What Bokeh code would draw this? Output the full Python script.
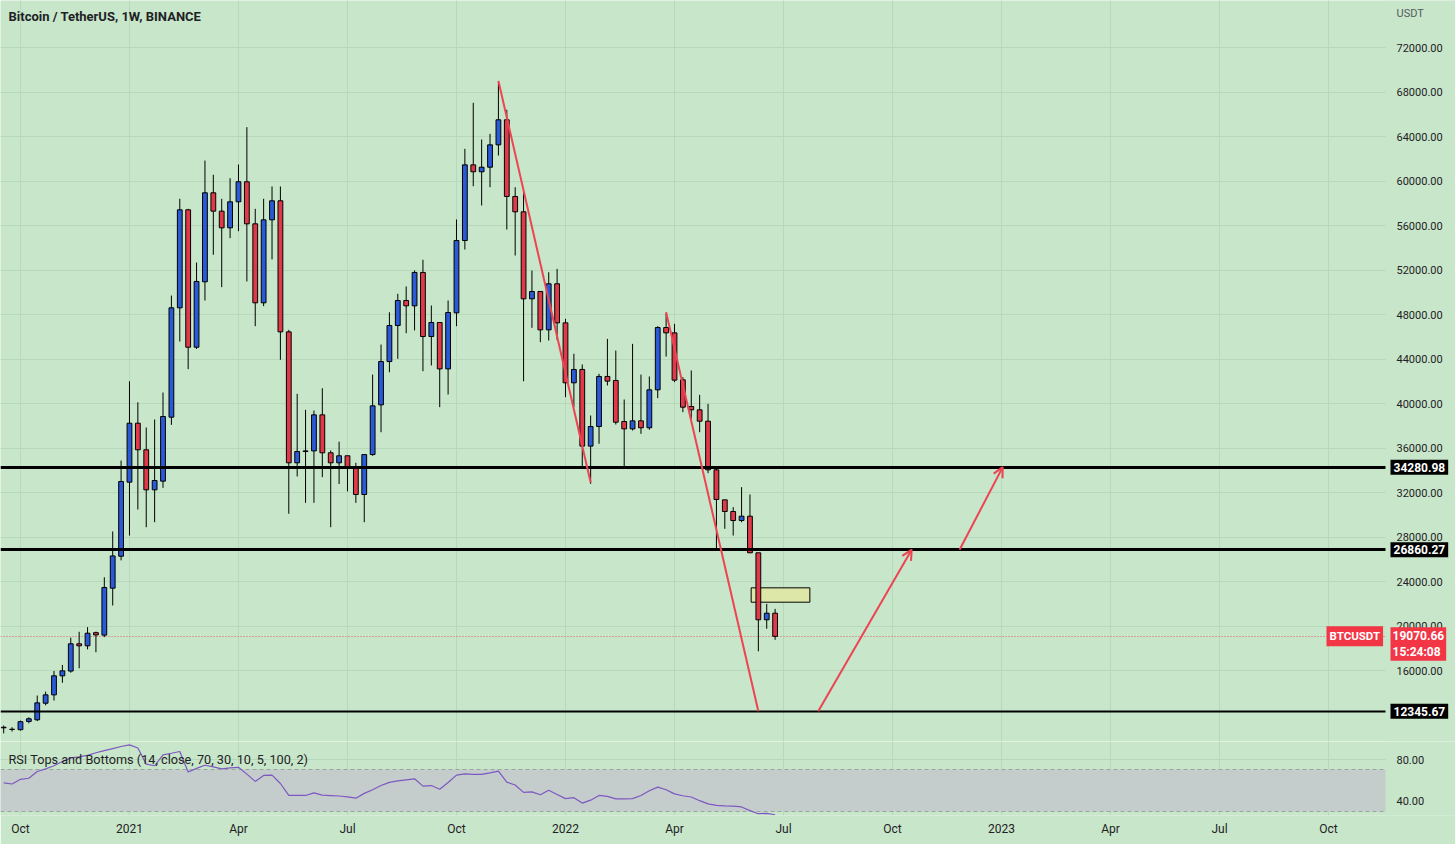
import pandas as pd
from bokeh.plotting import figure
from bokeh.layouts import column
from bokeh.models import (Range1d, FixedTicker, NumeralTickFormatter, Label, Arrow,
                          OpenHead, ColumnDataSource)
from bokeh.embed import file_html
from bokeh.resources import INLINE

# ------------------------------------------------------------------ data
title_text = "Bitcoin / TetherUS, 1W, BINANCE"
rsi_title = "RSI Tops and Bottoms (14, close, 70, 30, 10, 5, 100, 2)"
currency = "USDT"
symbol = "BTCUSDT"
countdown = "15:24:08"

first_week = "2020-09-21"
n_weeks = 93

opens = [10900, 10700, 10680, 11420, 11570, 13060, 13810, 15520, 15950, 18400,
         18220, 19400, 19180, 23400, 26270, 32930, 38230, 35840, 32240, 33020,
         38770, 48600, 57410, 45060, 50940, 58940, 57290, 55790, 58130, 59930,
         56150, 49050, 56510, 58220, 46440, 34670, 35680, 35740, 38980, 35570,
         34670, 35300, 34220, 31820, 35410, 39880, 43770, 47010, 49260, 48780,
         51780, 46020, 47280, 43110, 48150, 54650, 61450, 60830, 61240, 63250,
         65500, 58610, 57230, 49410, 50070, 46620, 50760, 47250, 41860, 43060,
         36170, 37930, 42430, 42070, 38380, 37720, 38440, 37820, 41230, 46830,
         46350, 42130, 39730, 39430, 38410, 34040, 31340, 30290, 29480, 29870,
         26580, 20560, 21150]
highs = [11050, 10900, 11500, 11800, 13750, 14100, 15960, 16500, 18950, 19480,
         19900, 19500, 24380, 28500, 34870, 42000, 40110, 37840, 38560, 40990,
         49700, 58400, 57500, 52670, 61840, 60560, 58400, 60250, 61480, 64840,
         57500, 58400, 59510, 59510, 46620, 40870, 39430, 39370, 41370, 35780,
         36570, 35300, 34670, 35410, 42600, 45300, 48200, 49860, 50520, 51960,
         52920, 48810, 47280, 49260, 56540, 62890, 67030, 63730, 64240, 68880,
         66400, 59440, 59130, 51950, 50070, 51800, 52100, 47610, 44470, 43510,
         38920, 42670, 45810, 44760, 40360, 45360, 42600, 42430, 46950, 48150,
         47160, 42370, 42970, 40780, 39970, 34130, 31340, 30680, 32480, 31820,
         26580, 21990, 21540]
lows = [10350, 10510, 10600, 11250, 11450, 12870, 13300, 14900, 15800, 16200,
        17900, 17640, 19000, 21840, 25900, 28130, 30470, 28880, 29330, 32420,
        38080, 45570, 43090, 44900, 49260, 53370, 50460, 54860, 55490, 50970,
        46950, 48750, 52950, 43930, 30090, 33440, 31070, 31070, 33380, 28880,
        32760, 32100, 31070, 29330, 35300, 37420, 42810, 44020, 46320, 46570,
        42900, 43420, 39670, 40810, 46950, 53840, 59530, 57800, 59440, 62290,
        55640, 53300, 42000, 46800, 45510, 45660, 45730, 40570, 39670, 34130,
        32780, 36380, 41620, 38110, 34280, 37570, 37270, 37640, 40480, 44220,
        41920, 39220, 38630, 37420, 33740, 26940, 28740, 28130, 29330, 26580,
        17730, 19750, 18760]
closes = [10850, 10720, 11400, 11660, 13090, 13810, 15520, 15970, 18400, 18220,
          19350, 19200, 23460, 26300, 32990, 38230, 35840, 32240, 33080, 38830,
          48600, 57410, 45060, 50970, 58940, 57290, 55790, 58130, 59930, 56150,
          49050, 56510, 58220, 46440, 34670, 35680, 35740, 38980, 35570, 34670,
          35300, 34220, 31820, 35410, 39790, 43770, 47010, 49260, 48780, 51780,
          46020, 47280, 43110, 48180, 54650, 61450, 60830, 61240, 63250, 65500,
          58610, 57230, 49410, 50070, 46620, 50760, 47250, 41860, 43060, 36170,
          37930, 42430, 42010, 38320, 37720, 38440, 37820, 41230, 46830, 46350,
          42100, 39670, 39430, 38410, 34040, 31370, 30290, 29480, 29870, 26580,
          20560, 21150, 19070.66]
rsi = [57.5, 56.5, 61, 62, 68.5, 71, 74, 78, 81.5, 82.5,
       84, 86.5, 88.5, 90.5, 92.5, 94, 91, 75.5, 74, 84.5,
       86, 87.7, 68, 71.5, 74.5, 73, 71, 72, 72.5, 66,
       59, 64.7, 65, 57, 45.5, 45.5, 45.5, 48, 45.8, 45.4,
       45, 44.2, 42.9, 47.5, 51, 55, 58, 59.5, 60.5, 61.5,
       54.5, 55, 51.5, 58, 65, 66.2, 65.8, 65.8, 67.2, 68.8,
       58.3, 55.5, 48.5, 49, 46.2, 50.5, 46.5, 42.5, 43.4, 38.2,
       41, 45.5, 44.6, 42.3, 42.3, 42.5, 45.5, 50, 53.5, 51,
       47, 45.2, 44, 40.5, 37.4, 36, 35.5, 35.3, 34.5, 31,
       28, 28.4, 27]

levels = [34280.98, 26860.27, 12345.67]
last_price = closes[-1]

trend_start_dates = ["2021-11-08", "2022-03-28"]
trend_start_prices = [69000, 48200]
trend_end_dates = ["2022-01-24", "2022-06-13"]
trend_end_prices = [32900, 12345.67]
arrow_start_dates = ["2022-08-02", "2022-11-28"]
arrow_start_prices = [12345.67, 26860.27]
arrow_end_dates = ["2022-10-19", "2023-01-03"]
arrow_end_prices = [26860.27, 34280.98]
zone_dates = ["2022-06-07", "2022-07-26"]
zone_prices = [22140, 23430]

price_ticks = [16000, 20000, 24000, 28000, 32000, 36000, 40000, 44000, 48000,
               52000, 56000, 60000, 64000, 68000, 72000]
rsi_ticks = [40, 80]
rsi_bands = [30, 70]
time_tick_dates = ["2020-10-05", "2021-01-04", "2021-04-05", "2021-07-05", "2021-10-04",
                   "2022-01-03", "2022-04-04", "2022-07-04", "2022-10-03", "2023-01-02",
                   "2023-04-03", "2023-07-03", "2023-10-02"]
time_tick_labels = ["Oct", "2021", "Apr", "Jul", "Oct", "2022", "Apr", "Jul", "Oct",
                    "2023", "Apr", "Jul", "Oct"]

# ------------------------------------------------------------------ helpers
origin = pd.Timestamp(first_week)


def day(d):
    return (pd.Timestamp(d) - origin) / pd.Timedelta(days=1)


weeks = pd.date_range(first_week, periods=n_weeks, freq="7D")
xs = [day(w) for w in weeks]
tick_days = [int(day(d)) for d in time_tick_dates]
overrides = {t: lab for t, lab in zip(tick_days, time_tick_labels)}

BG = "#c8e6c9"
GRID = "#b7d8ba"
UP = "#2a5ad8"
DOWN = "#e03a4a"
TREND = "#ee4352"
LABEL_RED = "#f23645"
FONT = "Roboto"
TXT = "#1e2226"

W_TOTAL = 1455
PRICE_H = 741
RSI_H = 103
AXIS_H = 29
X_START = -2.67          # left edge of the window
CHART_END = 1153.55      # where the price scale begins
X_END = 1212.0           # right edge of the window
STANDOFF = -59           # pulls the scale labels back over the window

x_range = Range1d(X_START, X_END)


def style_right_axis(a, ticks):
    a.ticker = FixedTicker(ticks=ticks)
    a.formatter = NumeralTickFormatter(format="0.00")
    a.axis_line_color = None
    a.major_tick_line_color = None
    a.minor_tick_line_color = None
    a.major_tick_out = 0
    a.major_tick_in = 0
    a.minor_tick_out = 0
    a.major_label_standoff = STANDOFF
    a.major_label_text_font = FONT
    a.major_label_text_font_size = "11px"
    a.major_label_text_color = TXT


def style_grids(fig, yticks):
    for g in fig.grid:
        g.ticker = FixedTicker(ticks=tick_days if g.dimension == 0 else yticks)
        g.grid_line_color = GRID


# ------------------------------------------------------------------ price pane
p = figure(width=W_TOTAL, height=PRICE_H, x_range=x_range, y_range=Range1d(9618, 76225),
           output_backend="svg", toolbar_location=None, x_axis_location=None,
           y_axis_location="right", min_border_left=0, min_border_top=0,
           min_border_bottom=0, min_border_right=0,
           background_fill_color=BG, border_fill_color=BG, outline_line_color=None)
style_right_axis(p.yaxis[0], price_ticks)
style_grids(p, price_ticks)

# zone box
p.quad(left=[day(zone_dates[0])], right=[day(zone_dates[1])],
       bottom=[zone_prices[0]], top=[zone_prices[1]],
       fill_color="#dde8a8", line_color="black", line_width=1)

# dotted current price line
p.hspan(y=[last_price], line_color=DOWN, line_dash="1 2", line_width=1, line_alpha=0.8)

# candles
src = ColumnDataSource(dict(
    x=xs, o=opens, h=highs, l=lows, c=closes,
    top=[max(a, b) for a, b in zip(opens, closes)],
    bot=[min(a, b) for a, b in zip(opens, closes)],
    col=[UP if c >= o else DOWN for o, c in zip(opens, closes)],
))
p.segment(x0="x", y0="l", x1="x", y1="h", source=src, line_color="black", line_width=1)
p.vbar(x="x", width=4.0, top="top", bottom="bot", source=src, fill_color="col",
       line_color="black", line_width=1)

# horizontal levels
p.hspan(y=levels, line_color="black", line_width=[3, 3, 2])

# red trend lines
p.segment(x0=[day(d) for d in trend_start_dates], y0=trend_start_prices,
          x1=[day(d) for d in trend_end_dates], y1=trend_end_prices,
          line_color=TREND, line_width=2)

# price-scale strip (same colour as the page, hides lines behind the scale)
p.quad(left=[CHART_END], right=[X_END], bottom=[p.y_range.start], top=[p.y_range.end],
       fill_color=BG, line_color=None)

for sd, sp, ed, ep in zip(arrow_start_dates, arrow_start_prices, arrow_end_dates, arrow_end_prices):
    p.add_layout(Arrow(end=OpenHead(size=10, line_color=TREND, line_width=2),
                       x_start=day(sd), y_start=sp, x_end=day(ed), y_end=ep,
                       line_color=TREND, line_width=2))

# texts
p.add_layout(Label(x=8, y=PRICE_H - 16, x_units="screen", y_units="screen",
                   text=title_text, text_font=FONT, text_font_size="13px",
                   text_font_style="bold", text_color=TXT, text_baseline="middle"))
p.add_layout(Label(x=1396, y=PRICE_H - 13, x_units="screen", y_units="screen",
                   text=currency, text_font=FONT, text_font_size="11px",
                   text_color="#555b60", text_baseline="middle"))

for lv in levels:
    p.add_layout(Label(x=1390, y=lv, x_units="screen", y_units="data",
                       text=f"{lv:.2f}", text_font=FONT, text_font_size="12px",
                       text_font_style="bold", text_color="white", text_baseline="middle",
                       background_fill_color="black", padding=3))

p.add_layout(Label(x=1326, y=last_price, x_units="screen", y_units="data",
                   text=symbol, text_font=FONT, text_font_size="11.5px",
                   text_font_style="bold", text_color="white", text_baseline="middle",
                   background_fill_color=LABEL_RED, padding=3))
p.add_layout(Label(x=1390, y=last_price, y_offset=9, x_units="screen", y_units="data",
                   text=f"{last_price:.2f}\n{countdown}", text_font=FONT,
                   text_font_size="12px", text_font_style="bold", text_color="white",
                   text_baseline="top", text_line_height=1.1,
                   background_fill_color=LABEL_RED, padding=2))

# ------------------------------------------------------------------ RSI pane
q = figure(width=W_TOTAL, height=RSI_H, x_range=x_range, y_range=Range1d(26.28, 97.27),
           output_backend="svg", toolbar_location=None, y_axis_location="right",
           min_border_left=0, min_border_top=0, min_border_bottom=AXIS_H,
           min_border_right=0, background_fill_color=BG, border_fill_color=BG,
           outline_line_color=None)
style_right_axis(q.yaxis[0], rsi_ticks)
style_grids(q, rsi_ticks)

xa = q.xaxis[0]
xa.ticker = FixedTicker(ticks=tick_days)
xa.major_label_overrides = overrides
xa.axis_line_color = None
xa.major_tick_line_color = None
xa.minor_tick_line_color = None
xa.major_tick_out = 0
xa.major_tick_in = 0
xa.minor_tick_out = 0
xa.major_label_standoff = 6
xa.major_label_text_font = FONT
xa.major_label_text_font_size = "12px"
xa.major_label_text_color = TXT

q.hstrip(y0=[rsi_bands[0]], y1=[rsi_bands[1]], fill_color="#c4cdcb", line_color=None)
q.hspan(y=rsi_bands, line_color="#9ba4a1", line_dash="4 3", line_width=1)
q.line(xs, rsi, line_color="#7e57c2", line_width=1.2)
q.quad(left=[CHART_END], right=[X_END], bottom=[q.y_range.start], top=[q.y_range.end],
       fill_color=BG, line_color=None)

q.add_layout(Label(x=8, y=RSI_H - AXIS_H - 18, x_units="screen", y_units="screen",
                   text=rsi_title, text_font=FONT, text_font_size="12.7px",
                   text_color=TXT, text_baseline="middle"))

layout = column(p, q, spacing=0)
open("out.html", "w").write(file_html(layout, INLINE))
